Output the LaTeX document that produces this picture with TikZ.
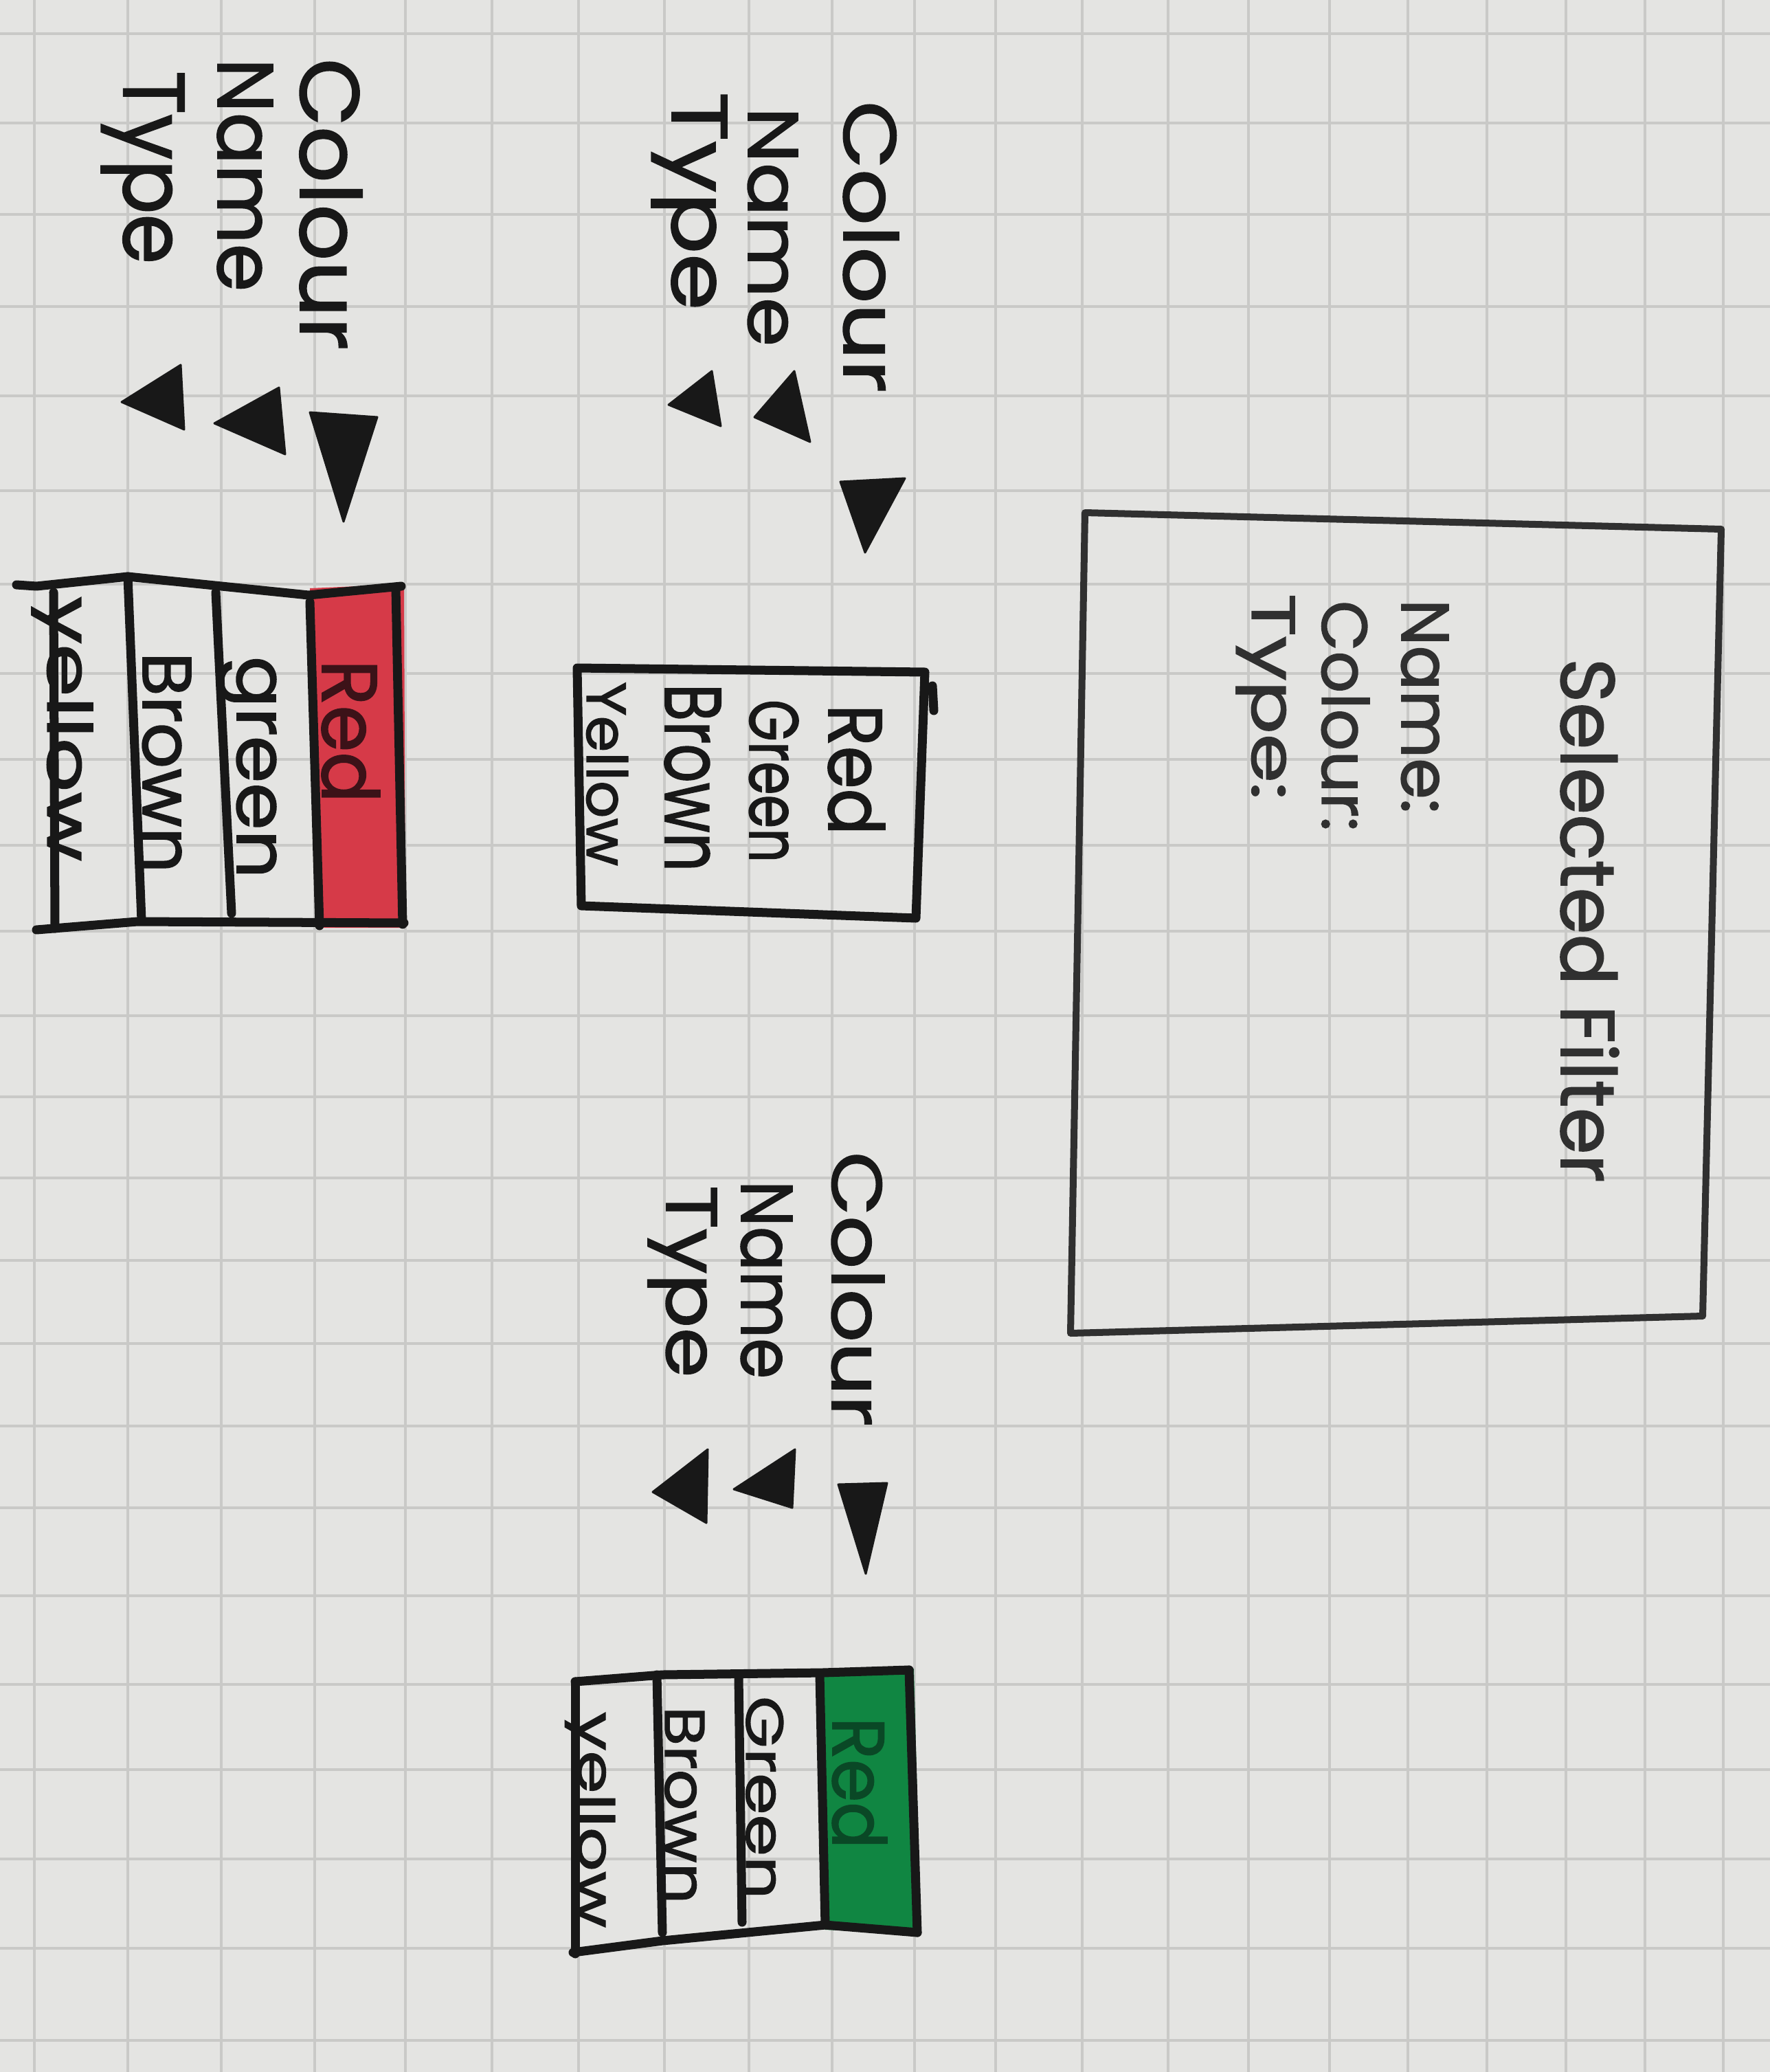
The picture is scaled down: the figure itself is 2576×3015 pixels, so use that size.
\documentclass[tikz,border=0pt]{standalone}
\usepackage{fontspec}
\usepackage{graphicx}
\newfontfamily\handfont{Poppins}[RawFeature={embolden=1.6}]
% word scaled to a given length and letter height (both in cm)
\newcommand\hw[3]{\resizebox{#1cm}{#2cm}{\handfont #3}}
\definecolor{paper}{RGB}{228,228,226}
\definecolor{gridc}{RGB}{201,201,199}
\definecolor{ink}{RGB}{24,24,24}
\definecolor{pencil}{RGB}{48,48,48}
\definecolor{redfill}{RGB}{214,58,72}
\definecolor{redink}{RGB}{60,18,24}
\definecolor{greenfill}{RGB}{16,134,66}
\definecolor{greenink}{RGB}{10,72,38}
\tikzset{
  gridline/.style={draw=gridc, line width=0.04cm},
  inkline/.style={draw=ink, line width=0.13cm, line join=round, line cap=round},
  panelline/.style={draw=pencil, line width=0.10cm, line join=round, line cap=round},
  lbl/.style={rotate=-90, anchor=base west, inner sep=0pt, outer sep=0pt, text=ink, font=\handfont},
  arrowtri/.style={fill=ink, draw=ink, line width=0.03cm, line join=round},
}
\begin{document}
\begin{tikzpicture}[x=0.01cm, y=-0.01cm]
\useasboundingbox (0,0) rectangle (2576,3015);
\fill[paper] (0,0) rectangle (2576,3015);

% squared paper
\foreach \gx in {50,186,322,458,590,716,842,967,1090,1211,1331,1449,1575,1700,1817,1935,2049,2164,2279,2394,2508}
  \draw[gridline] (\gx,0) -- (\gx,3015);
\foreach \gy in {49,179,312,446,576,714,850,980,1105,1230,1355,1478,1596,1714,1834,1955,2075,2194,2322,2451,2575,2705,2835,2969}
  \draw[gridline] (0,\gy) -- (2576,\gy);

% ---------- detail panel ----------
\draw[panelline] (1579,746) -- (2505,770) -- (2478,1915) -- (1558,1940) -- cycle;
\node[lbl, text=pencil] (sf)  at (2272,958) {\hw{7.62}{0.84}{Selected Filter}};
\node[lbl, text=pencil] (pn)  at (2040,872) {\hw{3.11}{0.68}{Name:}};
\node[lbl, text=pencil] (pc)  at (1924,874) {\hw{3.35}{0.69}{Colour:}};
\node[lbl, text=pencil] (pt)  at (1822,864) {\hw{2.99}{0.62}{Type:}};

% ---------- filter set A (closed list) ----------
\node[lbl] (ac) at (1228,147) {\hw{4.24}{0.80}{Colour}};
\node[lbl] (an) at (1089,156) {\hw{3.48}{0.72}{Name}};
\node[lbl] (at) at (978,134)  {\hw{3.17}{0.80}{Type}};
\filldraw[arrowtri] (1223,701) -- (1317,696) -- (1259,804) -- cycle;
\filldraw[arrowtri] (1098,607) -- (1156,540) -- (1179,643) -- cycle;
\filldraw[arrowtri] (973,589) -- (1036,540) -- (1049,620) -- cycle;

\draw[inkline] (840,972) -- (1346,978) -- (1333,1336) -- (846,1318) -- cycle;
\draw[inkline] (1357,998) -- (1359,1034);
\node[lbl] (ar) at (1206,1025) {\hw{1.90}{0.82}{Red}};
\node[lbl] (ag) at (1091,1018) {\hw{2.37}{0.71}{Green}};
\node[lbl] (ab) at (968,995)   {\hw{2.73}{0.81}{Brown}};
\node[lbl] (ay) at (854,992)   {\hw{2.68}{0.60}{Yellow}};

% ---------- filter set B (red chosen) ----------
\node[lbl] (bc) at (437,85)  {\hw{4.24}{0.90}{Colour}};
\node[lbl] (bn) at (317,85)  {\hw{3.39}{0.80}{Name}};
\node[lbl] (bt) at (180,103) {\hw{2.81}{0.88}{Type}};
\filldraw[arrowtri] (451,600) -- (549,607) -- (500,759) -- cycle;
\filldraw[arrowtri] (312,616) -- (406,564) -- (415,661) -- cycle;
\filldraw[arrowtri] (177,585) -- (263,531) -- (268,625) -- cycle;

\fill[redfill] (451,856) -- (588,850) -- (590,1350) -- (462,1350) -- cycle;
\draw[inkline] (24,851) -- (53,853) -- (186,839) -- (449,866) -- (584,853);
\draw[inkline] (78,862) -- (80,1351);
\draw[inkline] (53,1353) -- (200,1341) -- (588,1343);
\draw[inkline] (576,856) -- (586,1345);
\draw[inkline] (186,839) -- (206,1339);
\draw[inkline] (314,862) -- (337,1329);
\draw[inkline] (451,876) -- (465,1347);
\node[lbl, text=redink] (br) at (469,960) {\hw{2.08}{0.84}{Red}};
\node[lbl] (bg) at (345,955) {\hw{3.23}{0.57}{green}};
\node[lbl] (bb) at (208,949) {\hw{3.21}{0.70}{Brown}};
\node[lbl] (by) at (69,868)  {\hw{3.85}{0.66}{yellow}};

% ---------- filter set C (green chosen) ----------
\node[lbl] (cc) at (1211,1676) {\hw{3.99}{0.76}{Colour}};
\node[lbl] (cn) at (1079,1718) {\hw{2.88}{0.74}{Name}};
\node[lbl] (ct) at (970,1725)  {\hw{2.79}{0.73}{Type}};
\filldraw[arrowtri] (1220,2160) -- (1291,2158) -- (1260,2290) -- cycle;
\filldraw[arrowtri] (1068,2167) -- (1157,2109) -- (1153,2194) -- cycle;
\filldraw[arrowtri] (950,2171) -- (1030,2109) -- (1028,2216) -- cycle;

\fill[greenfill] (1193,2432) -- (1330,2428) -- (1340,2814) -- (1201,2808) -- cycle;
\draw[inkline] (837,2447) -- (964,2437) -- (1197,2434) -- (1323,2430);
\draw[inkline] (837,2447) -- (837,2843);
\draw[inkline] (834,2841) -- (964,2824) -- (1201,2801) -- (1335,2812);
\draw[inkline] (1323,2430) -- (1335,2812);
\draw[inkline] (956,2437) -- (964,2812);
\draw[inkline] (1075,2441) -- (1080,2797);
\draw[inkline] (1193,2437) -- (1201,2801);
\node[lbl, text=greenink] (cr) at (1212,2499) {\hw{1.91}{0.79}{Red}};
\node[lbl] (cg) at (1086,2468) {\hw{2.95}{0.54}{Green}};
\node[lbl] (cb) at (968,2483)  {\hw{2.87}{0.57}{Brown}};
\node[lbl] (cy) at (841,2491)  {\hw{3.14}{0.54}{yellow}};
\end{tikzpicture}
\end{document}
